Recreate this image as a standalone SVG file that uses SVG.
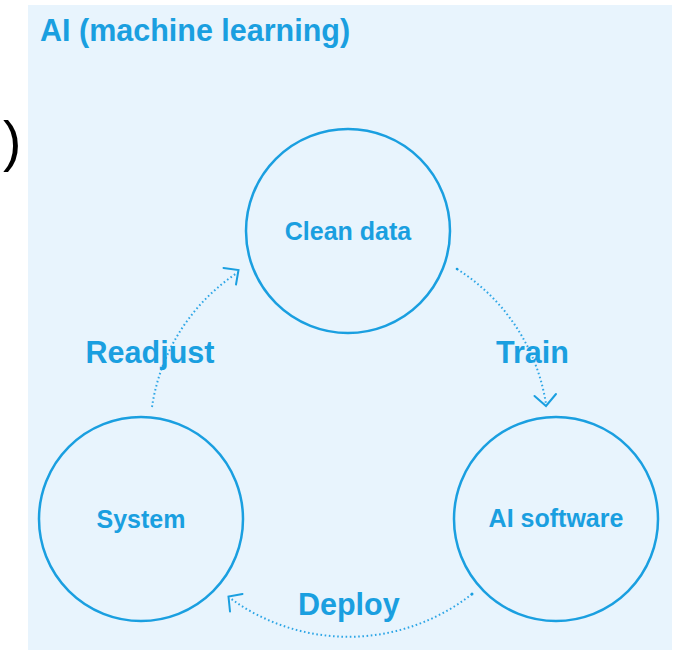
<svg xmlns="http://www.w3.org/2000/svg" width="681" height="650" viewBox="0 0 681 650">
  <style>
    .node { fill: none; stroke: #1a9fe0; stroke-width: 2.5; }
    .ntext { font-family: "Liberation Sans", Arial, sans-serif; font-weight: bold; font-size: 25px; fill: #1a9fe0; text-anchor: middle; }
    .label { font-family: "Liberation Sans", Arial, sans-serif; font-weight: bold; font-size: 30.5px; fill: #1a9fe0; }
    .flow { fill: none; stroke: #2ea6e6; stroke-width: 2; stroke-dasharray: 1.6 2.6; }
    .head { fill: none; stroke: #1a9fe0; stroke-width: 2; stroke-linecap: round; stroke-linejoin: miter; }
  </style>
  <rect x="0" y="0" width="681" height="650" fill="#ffffff"/>
  <rect x="28" y="5" width="644" height="645" fill="#e8f4fd"/>
  <text x="3" y="160" font-family="Liberation Sans, Arial, sans-serif" font-size="55" fill="#000000">)</text>
  <text class="label" x="40" y="41" font-size="29.7">AI (machine learning)</text>

  <g id="connectors">
    <g id="train">
      <path class="flow" d="M457,269 A195,195 0 0 1 546,404"/>
      <polyline class="head" points="534.5,396 546,406 556,394"/>
      <circle cx="457" cy="269" r="1.3" fill="#1a9fe0"/>
    </g>
    <g id="deploy">
      <path class="flow" d="M472,594 A200,200 0 0 1 230,598"/>
      <polyline class="head" points="242.5,594 228.5,596.5 230,611.5"/>
      <circle cx="472" cy="594" r="1.5" fill="#1a9fe0"/>
    </g>
    <g id="readjust">
      <path class="flow" d="M152,407 A195,195 0 0 1 237,273"/>
      <polyline class="head" points="223.5,268 238.5,270 236,284.5"/>
    </g>
    <text class="label" x="150" y="363" text-anchor="middle">Readjust</text>
    <text class="label" x="496" y="363">Train</text>
    <text class="label" x="298" y="615">Deploy</text>
  </g>

  <g id="clean-data">
    <circle class="node" cx="348" cy="231" r="102"/>
    <text class="ntext" x="348" y="240">Clean data</text>
  </g>
  <g id="system">
    <circle class="node" cx="141" cy="519" r="102"/>
    <text class="ntext" x="141" y="528">System</text>
  </g>
  <g id="ai-software">
    <circle class="node" cx="556" cy="519" r="102"/>
    <text class="ntext" x="556" y="527">AI software</text>
  </g>
</svg>
